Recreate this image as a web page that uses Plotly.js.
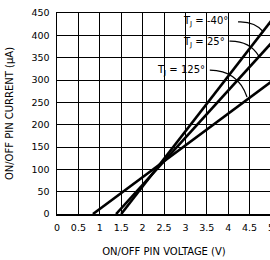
<!DOCTYPE html>
<html>
<head>
<meta charset="utf-8">
<script src="https://cdn.plot.ly/plotly-3.0.1.min.js"></script>
<style>
html,body{margin:0;padding:0;width:270px;height:260px;overflow:hidden;background:#fff;}
#chart{width:280px;height:260px;}
</style>
</head>
<body>
<div id="chart"></div>
<script>
// Data
const seriesNames = ["T<sub><span style=\"color:#000\">J</span></sub> = -40°", "T<sub><span style=\"color:#000\">J</span></sub> = 25°", "T<sub><span style=\"color:#000\">J</span></sub> = 125°"];
const voltageM40 = [1.50, 5.0];
const currentM40 = [0, 432];
const voltage25 = [1.38, 5.0];
const current25 = [0, 382];
const voltage125 = [0.84, 5.0];
const current125 = [0, 296];
const xTickVals = [0, 0.5, 1, 1.5, 2, 2.5, 3, 3.5, 4, 4.5, 5];
const xTickText = ["0", "0.5", "1", "1.5", "2", "2.5", "3", "3.5", "4", "4.5", "5"];
const yTickVals = [0, 50, 100, 150, 200, 250, 300, 350, 400, 450];

const font = "DejaVu Sans, sans-serif";
const lineStyle = {color: "#000", width: 2.6};

const traces = [
  {x: voltageM40, y: currentM40, mode: "lines", line: lineStyle, name: "-40", showlegend: false, hoverinfo: "skip"},
  {x: voltage25, y: current25, mode: "lines", line: lineStyle, name: "25", showlegend: false, hoverinfo: "skip"},
  {x: voltage125, y: current125, mode: "lines", line: lineStyle, name: "125", showlegend: false, hoverinfo: "skip"}
];

const annFont = {family: font, size: 10, color: "#000"};
const layout = {
  width: 280, height: 260,
  margin: {l: 57, r: 9, t: 13, b: 46, pad: 0},
  paper_bgcolor: "#fff", plot_bgcolor: "#fff",
  font: {family: font, size: 9, color: "#000"},
  xaxis: {
    range: [0, 5], tickvals: xTickVals, ticktext: xTickText,
    showgrid: true, gridcolor: "#000", gridwidth: 1,
    showline: true, linecolor: "#000", linewidth: 1.5, mirror: true,
    zeroline: false, ticks: "", ticklen: 0, ticklabelstandoff: 4,
    tickfont: {family: font, size: 9.5, color: "#000"},
    title: {text: "ON/OFF PIN VOLTAGE (V)", font: {family: font, size: 10, color: "#000"}, standoff: 16}
  },
  yaxis: {
    range: [0, 450], tickvals: yTickVals,
    showgrid: true, gridcolor: "#000", gridwidth: 1,
    showline: true, linecolor: "#000", linewidth: 1.5, mirror: true,
    zeroline: false, ticks: "", ticklen: 0, ticklabelstandoff: 4,
    tickfont: {family: font, size: 9.5, color: "#000"},
    title: {text: "ON/OFF PIN CURRENT (μA)", font: {family: font, size: 10, color: "#000"}, standoff: 16}
  },
  annotations: [
    {x: 3.46, y: 430, xref: "x", yref: "y", text: seriesNames[0], showarrow: false, font: annFont},
    {x: 3.43, y: 385, xref: "x", yref: "y", text: seriesNames[1], showarrow: false, font: annFont},
    {x: 2.90, y: 322, xref: "x", yref: "y", text: seriesNames[2], showarrow: false, font: annFont}
  ],
  shapes: [
    {type: "path", xref: "x", yref: "y", path: "M 4.23,430 Q 4.62,432 4.83,407", line: {color: "#000", width: 1.2}},
    {type: "path", xref: "x", yref: "y", path: "M 4.03,387 Q 4.50,388 4.72,353", line: {color: "#000", width: 1.2}},
    {type: "path", xref: "x", yref: "y", path: "M 3.57,322 Q 4.22,322 4.44,262", line: {color: "#000", width: 1.2}}
  ]
};

Plotly.newPlot("chart", traces, layout, {staticPlot: true, displayModeBar: false});
</script>
</body>
</html>
